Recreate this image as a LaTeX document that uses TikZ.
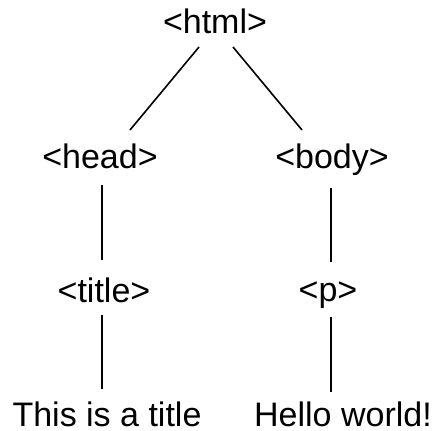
\documentclass[tikz,border=0pt]{standalone}
\usepackage{fontspec}
\setmainfont{Liberation Sans}
\usetikzlibrary{calc}

\tikzset{every picture/.append style={x=1pt, y=-1pt}}
\tikzset{tag/.style={anchor=base, inner sep=0pt, font=\fontsize{34}{40}\selectfont}}

\begin{document}
\begin{tikzpicture}[line width=1.6pt]
  \useasboundingbox (0,0) rectangle (435,430);
  \node[tag] (html) at(215,34){<html>};
  \node[tag] (head) at(100,168){<head>};
  \node[tag] (body) at(332,168){<body>};
  \node[tag] (title) at(104,302){<title>};
  \node[tag] (p) at(328,301){<p>};
  \node[tag] (titletext) at(107,426){This is a title};
  \node[tag] (ptext) at(343,426){Hello world!};
  \draw ($(html.base)+(-16,13)$) -- ($(head.base)+(30,-38)$);
  \draw ($(html.base)+(18,13)$) -- ($(body.base)+(-30,-38)$);
  \draw ($(head.base)+(2,17)$) -- ($(title.base)+(-2,-42)$);
  \draw ($(body.base)+(-1,20)$) -- ($(p.base)+(3,-39)$);
  \draw ($(title.base)+(-2,13)$) -- ($(titletext.base)+(-5,-37)$);
  \draw ($(p.base)+(3,16)$) -- ($(ptext.base)+(-12,-34)$);
\end{tikzpicture}
\end{document}
